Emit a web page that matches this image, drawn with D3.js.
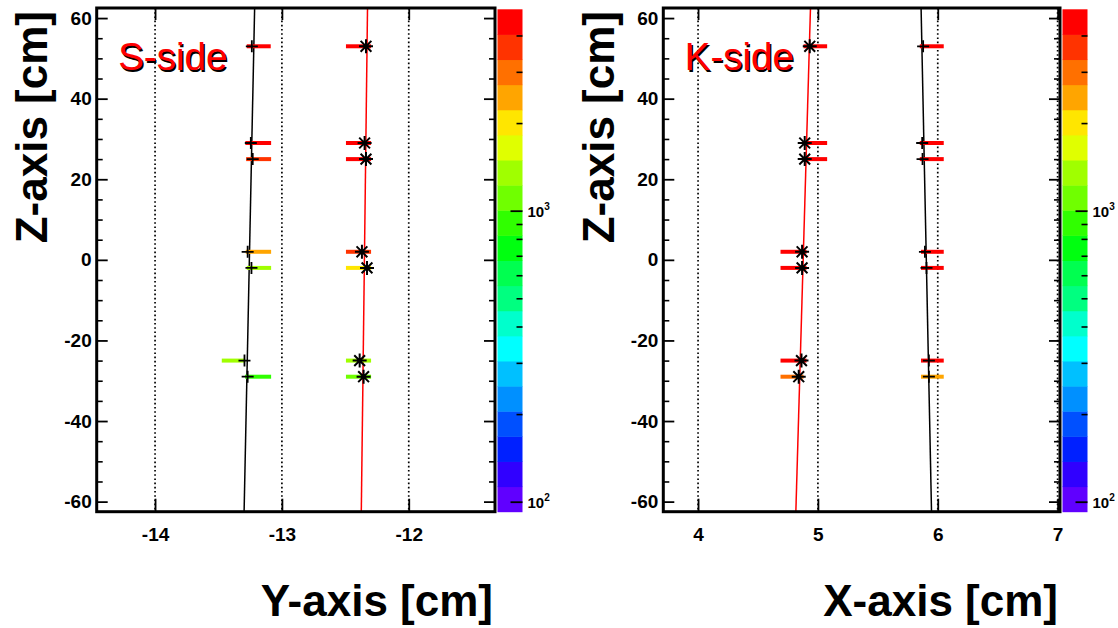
<!DOCTYPE html>
<html><head><meta charset="utf-8">
<script src="https://cdn.jsdelivr.net/npm/d3@7"></script>
<style>
html,body{margin:0;padding:0;background:#fff;}
svg{display:block;font-family:"Liberation Sans",Arial,Helvetica,sans-serif;}
</style></head>
<body>
<svg id="c" width="1118" height="628"></svg>
<script>
// ---------------- DATA ----------------
const zLayers = [53, 29, 25, 2, -2, -25, -29];
const zTicks = [-60, -40, -20, 0, 20, 40, 60];
const zMinorTicks = d3.range(-60, 61, 5);
const sXTicks = [-14, -13, -12];
const kXTicks = [4, 5, 6, 7];
const sideLabels = ["S-side", "K-side"];
const xTitles = ["Y-axis [cm]", "X-axis [cm]"];
const zTitle = "Z-axis [cm]";

// S-side, track 1 (black fit, "+" markers)
const sT1BarL = [-13.277, -13.288, -13.282, -13.285, -13.277, -13.474, -13.290];
const sT1BarR = [-13.088, -13.085, -13.085, -13.085, -13.085, -13.290, -13.085];
const sT1Val  = [4500, 4300, 3700, 2400, 1350, 1300, 900];
const sT1Mark = [-13.237, -13.245, -13.230, -13.270, -13.240, -13.295, -13.270];
const sT1Fit  = [-13.215, -13.298];   // x at z top, z bottom
// S-side, track 2 (red fit, "*" markers)
const sT2BarL = [-12.495, -12.495, -12.495, -12.495, -12.495, -12.495, -12.495];
const sT2BarR = [-12.297, -12.297, -12.297, -12.297, -12.297, -12.297, -12.297];
const sT2Val  = [4600, 4500, 4400, 3600, 2000, 1300, 1100];
const sT2Mark = [-12.337, -12.348, -12.337, -12.369, -12.329, -12.387, -12.356];
const sT2Fit  = [-12.325, -12.374];

// K-side, track 1 (red fit, "*" markers)
const kT1BarL = [4.880, 4.880, 4.880, 4.688, 4.688, 4.688, 4.688];
const kT1BarR = [5.077, 5.077, 5.077, 4.905, 4.905, 4.905, 4.880];
const kT1Val  = [4700, 4600, 4500, 4400, 4300, 4200, 3100];
const kT1Mark = [4.932, 4.890, 4.890, 4.868, 4.868, 4.863, 4.840];
const kT1Fit  = [4.938, 4.816];
// K-side, track 2 (black fit, "+" markers)
const kT2BarL = [5.850, 5.850, 5.850, 5.860, 5.860, 5.860, 5.860];
const kT2BarR = [6.050, 6.050, 6.050, 6.050, 6.050, 6.050, 6.050];
const kT2Val  = [4600, 4500, 4400, 4500, 4400, 4300, 2500];
const kT2Mark = [5.878, 5.870, 5.873, 5.893, 5.906, 5.926, 5.926];
const kT2Fit  = [5.861, 5.948];

// colour palette (bottom -> top), 20 contours
const palette = ["#6000ff","#3000ff","#0020ff","#0050ff","#0090ff","#00c0ff","#00ffff","#00ffcc",
  "#00ff80","#00ff50","#00ff10","#30ff00","#70ff00","#a0ff00","#e0ff00","#ffe600","#ffa500",
  "#ff7000","#ff3300","#ff0000"];
const zRange = [92.4, 4920];
const cbTicksMajor = [100, 1000];
const cbTicksMinor = [200,300,400,500,600,700,800,900,2000,3000,4000];

// ---------------- LAYOUT ----------------
const svg = d3.select("#c");
const plotTop = 8, plotBottom = 511.7;
const hyphenFmt = d => String(d);   // plain ASCII hyphen for negatives
const panels = [
  {x0: 96.7, x1: 495, dom: [-14.46, -11.32], ticks: sXTicks, label: sideLabels[0], title: xTitles[0],
   tracks: [
     {L: sT1BarL, R: sT1BarR, V: sT1Val, M: sT1Mark, F: sT1Fit, fitColor: "#000", marker: "plus"},
     {L: sT2BarL, R: sT2BarR, V: sT2Val, M: sT2Mark, F: sT2Fit, fitColor: "#ff0000", marker: "star"}]},
  {x0: 663.3, x1: 1060, dom: [3.71, 7.02], ticks: kXTicks, label: sideLabels[1], title: xTitles[1],
   tracks: [
     {L: kT1BarL, R: kT1BarR, V: kT1Val, M: kT1Mark, F: kT1Fit, fitColor: "#ff0000", marker: "star"},
     {L: kT2BarL, R: kT2BarR, V: kT2Val, M: kT2Mark, F: kT2Fit, fitColor: "#000", marker: "plus"}]}
];

const zDom = [-62.5, 62.5];
const y = d3.scaleLinear().domain(zDom).range([plotBottom, plotTop]);
const logc = d3.scaleLog().domain(zRange).range([0, 1]);
const colorOf = v => {
  let t = logc(v); let i = Math.floor(t * palette.length);
  i = Math.max(0, Math.min(palette.length - 1, i)); return palette[i];
};

panels.forEach(p => {
  const x = d3.scaleLinear().domain(p.dom).range([p.x0, p.x1]);
  const g = svg.append("g");

  g.selectAll("line.grid").data(p.ticks).join("line")
    .attr("x1", d => x(d)).attr("x2", d => x(d)).attr("y1", plotTop).attr("y2", plotBottom)
    .attr("stroke", "#000").attr("stroke-width", 1.7).attr("stroke-dasharray", "1.6,2.6");

  p.tracks.forEach(t => {
    g.append("line")
      .attr("x1", x(t.F[0])).attr("y1", y(zDom[1])).attr("x2", x(t.F[1])).attr("y2", y(zDom[0]))
      .attr("stroke", t.fitColor).attr("stroke-width", 1.5);
    g.selectAll(null).data(zLayers).join("line")
      .attr("x1", (d, i) => x(t.L[i])).attr("x2", (d, i) => x(t.R[i]))
      .attr("y1", d => y(d)).attr("y2", d => y(d))
      .attr("stroke", (d, i) => colorOf(t.V[i])).attr("stroke-width", 4);
  });
  p.tracks.forEach(t => {
    g.selectAll(null).data(zLayers).join("path")
      .attr("transform", (d, i) => `translate(${x(t.M[i])},${y(d)})`)
      .attr("d", t.marker === "plus" ? "M-6,0H6M0,-6V6"
        : "M-7,0H7M0,-7V7M-5.4,-5.4L5.4,5.4M-5.4,5.4L5.4,-5.4")
      .attr("fill", "none").attr("stroke", "#000").attr("stroke-width", t.marker === "plus" ? 1.8 : 2);
  });

  g.append("rect").attr("x", p.x0).attr("y", plotTop).attr("width", p.x1 - p.x0).attr("height", plotBottom - plotTop)
    .attr("fill", "none").attr("stroke", "#000").attr("stroke-width", 3);

  const minorZ = zMinorTicks.filter(v => !zTicks.includes(v));
  const yl = g.append("g").attr("transform", `translate(${p.x0},0)`)
    .call(d3.axisLeft(y).tickValues(zTicks).tickSizeInner(-11).tickSizeOuter(0).tickPadding(5).tickFormat(hyphenFmt));
  yl.select(".domain").remove();
  yl.selectAll("text").attr("font-size", 19).attr("font-weight", "bold").attr("fill", "#000");
  yl.selectAll(".tick line").attr("stroke-width", 1.8);
  const ylm = g.append("g").attr("transform", `translate(${p.x0},0)`)
    .call(d3.axisLeft(y).tickValues(minorZ).tickSizeInner(-6).tickSizeOuter(0).tickFormat(""));
  ylm.select(".domain").remove(); ylm.selectAll(".tick line").attr("stroke-width", 1.6);
  const yr = g.append("g").attr("transform", `translate(${p.x1},0)`)
    .call(d3.axisRight(y).tickValues(zTicks).tickSizeInner(-11).tickSizeOuter(0).tickFormat(""));
  yr.select(".domain").remove(); yr.selectAll(".tick line").attr("stroke-width", 1.8);
  const yrm = g.append("g").attr("transform", `translate(${p.x1},0)`)
    .call(d3.axisRight(y).tickValues(minorZ).tickSizeInner(-6).tickSizeOuter(0).tickFormat(""));
  yrm.select(".domain").remove(); yrm.selectAll(".tick line").attr("stroke-width", 1.6);

  const xb = g.append("g").attr("transform", `translate(0,${plotBottom})`)
    .call(d3.axisBottom(x).tickValues(p.ticks).tickSizeInner(-13).tickSizeOuter(0).tickPadding(16).tickFormat(hyphenFmt));
  xb.select(".domain").remove();
  xb.selectAll(".tick line").attr("stroke-width", 1.8);
  xb.selectAll("text").attr("font-size", 19).attr("font-weight", "bold").attr("fill", "#000");
  const xt = g.append("g").attr("transform", `translate(0,${plotTop})`)
    .call(d3.axisTop(x).tickValues(p.ticks).tickSizeInner(-12).tickSizeOuter(0).tickFormat(""));
  xt.select(".domain").remove(); xt.selectAll(".tick line").attr("stroke-width", 1.8);

  const lx = p.x0 + 21.5, ly = 70;
  g.append("text").attr("x", lx + 1.5).attr("y", ly + 1.5).attr("font-size", 38.5).attr("fill", "#000").text(p.label);
  g.append("text").attr("x", lx).attr("y", ly).attr("font-size", 38.5).attr("fill", "#ff0000").text(p.label);

  g.append("text").attr("x", p.x1 - 2).attr("y", 616).attr("text-anchor", "end")
    .attr("font-size", 44).attr("font-weight", "bold").text(p.title);
  g.append("text").attr("transform", `translate(${p.x0 - 49.5},${plotTop + 3}) rotate(-90)`)
    .attr("text-anchor", "end").attr("font-size", 44).attr("font-weight", "bold").text(zTitle);

  const cbx = p.x1 + 2.5, cbw = 25;
  const cb = d3.scaleLog().domain(zRange).range([plotBottom, plotTop + 1.3]);
  const n = palette.length;
  const l0 = Math.log10(zRange[0]), l1 = Math.log10(zRange[1]);
  const edges = d3.range(n + 1).map(i => Math.pow(10, l0 + i * (l1 - l0) / n));
  g.selectAll(null).data(palette).join("rect")
    .attr("x", cbx).attr("width", cbw)
    .attr("y", (c, i) => cb(edges[i + 1])).attr("height", (c, i) => cb(edges[i]) - cb(edges[i + 1]) + 0.5)
    .attr("fill", c => c);
  const ca = g.append("g").attr("transform", `translate(${cbx + cbw},0)`)
    .call(d3.axisRight(cb).tickValues(cbTicksMajor).tickSizeInner(-12).tickSizeOuter(0).tickFormat(""));
  ca.select(".domain").remove(); ca.selectAll(".tick line").attr("stroke-width", 1.8);
  const cam = g.append("g").attr("transform", `translate(${cbx + cbw},0)`)
    .call(d3.axisRight(cb).tickValues(cbTicksMinor).tickSizeInner(-6).tickSizeOuter(0).tickFormat(""));
  cam.select(".domain").remove(); cam.selectAll(".tick line").attr("stroke-width", 1.6);
  cbTicksMajor.forEach(v => {
    const tx = g.append("text").attr("x", cbx + cbw + 5).attr("y", cb(v) + 6)
      .attr("font-size", 15).attr("font-weight", "bold");
    tx.append("tspan").text("10");
    tx.append("tspan").attr("font-size", 10).attr("dy", -7).text(String(Math.round(Math.log10(v))));
  });
});
</script>
</body></html>
